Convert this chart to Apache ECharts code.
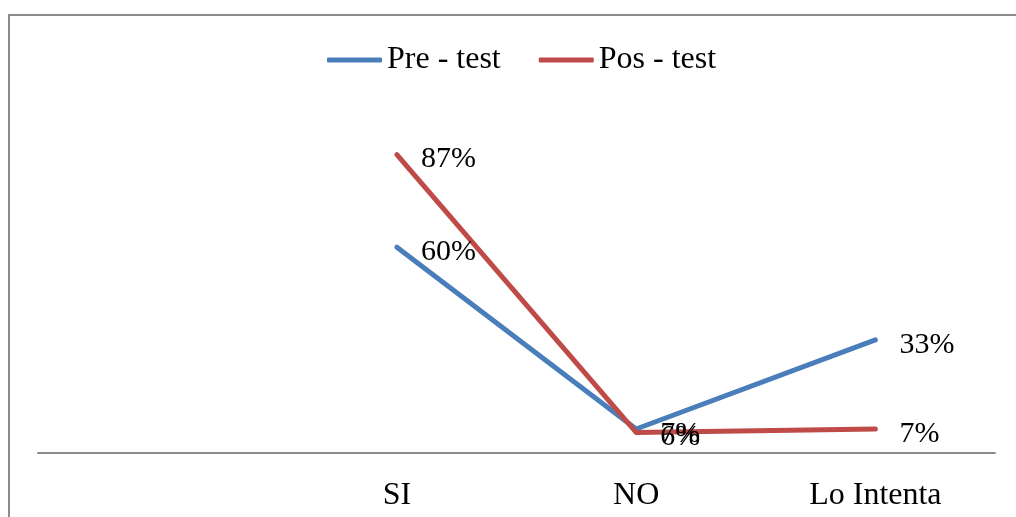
<!DOCTYPE html>
<html>
<head>
<meta charset="utf-8">
<script src="https://cdn.jsdelivr.net/npm/echarts@6/dist/echarts.min.js"></script>
<style>
html,body{margin:0;padding:0;background:#fff;}
#chart{width:1016px;height:517px;}
</style>
</head>
<body>
<div id="chart"></div>
<script>
var categories = ['', 'SI', 'NO', 'Lo Intenta'];
var preTest = ['-', 60, 7, 33];
var posTest = ['-', 87, 6, 7];
var seriesNames = ['Pre - test', 'Pos - test'];

var FONT = "'Liberation Serif', 'Times New Roman', serif";
var chart = echarts.init(document.getElementById('chart'));
function mkSeries(name, data, color) {
  return {
    name: name,
    type: 'line',
    data: data,
    symbol: 'circle',
    symbolSize: 0,
    showSymbol: true,
    connectNulls: false,
    lineStyle: { width: 5, color: color, cap: 'round', join: 'round' },
    itemStyle: { color: color },
    label: {
      show: true,
      position: 'right',
      distance: 24,
      offset: [0, 5],
      formatter: '{c}%',
      fontFamily: FONT,
      fontSize: 30,
      color: '#000'
    },
    emphasis: { disabled: true },
    animation: false
  };
}
chart.setOption({
  backgroundColor: '#fff',
  animation: false,
  graphic: [{
    type: 'rect',
    shape: { x: 9, y: 15, width: 1200, height: 700 },
    style: { fill: 'none', stroke: '#8c8c8c', lineWidth: 2 },
    silent: true
  }],
  legend: {
    data: seriesNames,
    left: 322,
    top: 39,
    icon: 'roundRect',
    itemWidth: 55,
    itemHeight: 5,
    itemGap: 38,
    textStyle: { fontFamily: FONT, fontSize: 32, color: '#000' }
  },
  grid: { left: 38, right: 21, top: 110, bottom: 64, containLabel: false },
  xAxis: {
    type: 'category',
    data: categories,
    boundaryGap: true,
    axisLine: { lineStyle: { color: '#8c8c8c', width: 2 } },
    axisTick: { show: false },
    axisLabel: { fontFamily: FONT, fontSize: 32, color: '#000', margin: 27 }
  },
  yAxis: {
    type: 'value',
    min: 0,
    max: 100,
    show: false,
    splitLine: { show: false }
  },
  series: [
    mkSeries(seriesNames[0], preTest, '#4A7EBB'),
    mkSeries(seriesNames[1], posTest, '#BE4B48')
  ]
});
</script>
</body>
</html>
